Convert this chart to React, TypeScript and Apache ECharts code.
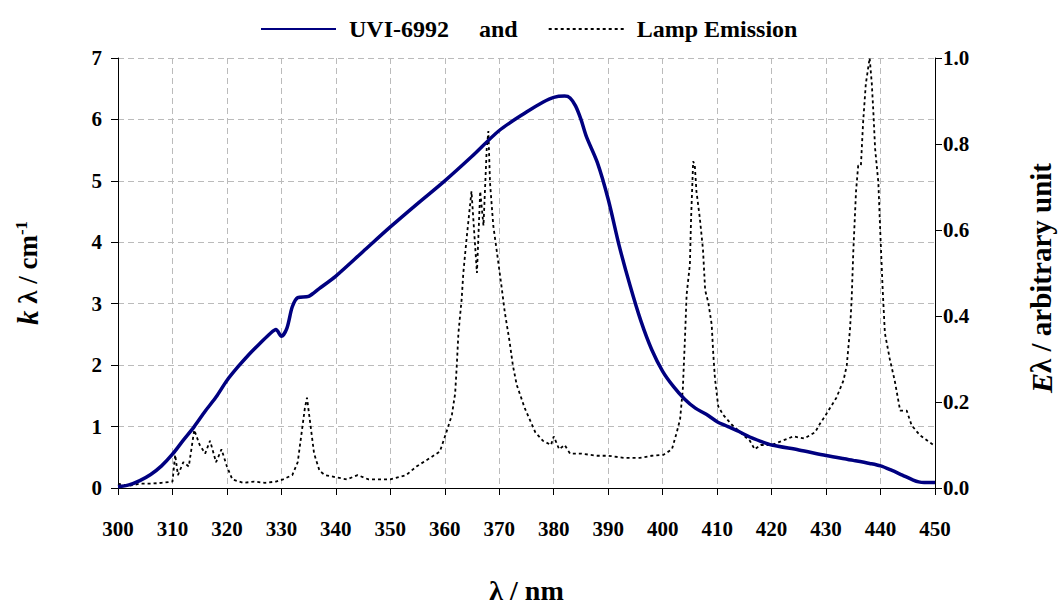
import React, { useEffect, useRef } from "react";
import * as echarts from "echarts";

const uviData: [number, number][] = [
  [300, 0.02], [302, 0.05], [304, 0.12], [306, 0.22], [308, 0.36], [310, 0.55], [312, 0.78],
  [314, 1.0], [316, 1.25], [318, 1.48], [320, 1.75], [322, 1.97], [324, 2.17], [326, 2.35],
  [328, 2.52], [329, 2.58], [330, 2.47], [331, 2.6], [332, 2.95], [333, 3.1], [335, 3.12],
  [337, 3.25], [340, 3.45], [345, 3.85], [350, 4.25], [355, 4.63], [360, 5.0], [365, 5.4],
  [370, 5.82], [375, 6.12], [378, 6.28], [380, 6.36], [382, 6.38], [383, 6.35], [384, 6.22],
  [385, 6.0], [386, 5.72], [388, 5.3], [390, 4.7], [392, 3.95], [394, 3.3], [396, 2.72],
  [398, 2.25], [400, 1.9], [402, 1.65], [404, 1.45], [406, 1.3], [408, 1.2], [410, 1.08],
  [412, 1.0], [414, 0.92], [416, 0.83], [418, 0.76], [420, 0.7], [425, 0.62], [430, 0.53],
  [435, 0.45], [438, 0.4], [440, 0.36], [442, 0.29], [444, 0.21], [446, 0.13], [447, 0.1],
  [448, 0.09], [450, 0.09],
];

const lampData: [number, number][] = [
  [300, 0.01], [302, 0.005], [304, 0.01], [306, 0.01], [308, 0.012], [310, 0.015], [310.5, 0.077],
  [311, 0.03], [312, 0.06], [313, 0.05], [314, 0.135], [315, 0.1], [316, 0.08], [316.9, 0.11],
  [318, 0.06], [319, 0.09], [320, 0.05], [321, 0.02], [323, 0.012], [325, 0.015], [327, 0.012],
  [329, 0.015], [330.3, 0.02], [332, 0.03], [333, 0.06], [334.3, 0.185], [334.7, 0.21],
  [335.5, 0.13], [336, 0.08], [337, 0.04], [338, 0.03], [340, 0.025], [342, 0.02], [344, 0.03],
  [346, 0.02], [348, 0.02], [350, 0.02], [352.9, 0.03], [354.8, 0.05], [357.3, 0.07],
  [359.1, 0.085], [360.3, 0.13], [361.3, 0.17], [361.9, 0.22], [362.2, 0.285], [362.5, 0.36],
  [363.1, 0.44], [363.4, 0.5], [364, 0.58], [364.9, 0.69], [365.9, 0.5], [366.5, 0.69],
  [367.1, 0.61], [367.7, 0.79], [368, 0.83], [368.3, 0.71], [368.9, 0.61], [369.5, 0.555],
  [370.4, 0.47], [371, 0.41], [371.9, 0.34], [372.5, 0.285], [373.2, 0.24], [374.7, 0.185],
  [376.6, 0.13], [378, 0.11], [379.5, 0.1], [380, 0.12], [381, 0.09], [382, 0.1], [383, 0.08],
  [385, 0.08], [388, 0.075], [390, 0.075], [393, 0.07], [395.8, 0.07], [398, 0.075],
  [400.1, 0.077], [401.7, 0.09], [402.6, 0.13], [403.2, 0.16], [403.7, 0.23], [404.1, 0.35],
  [404.4, 0.45], [405, 0.52], [405.2, 0.62], [405.6, 0.76], [405.9, 0.75], [406.2, 0.69],
  [406.8, 0.63], [407.4, 0.555], [407.8, 0.46], [408.4, 0.43], [409, 0.38], [409.3, 0.31],
  [409.6, 0.255], [410.2, 0.19], [411.1, 0.17], [412.7, 0.147], [414.2, 0.13], [416, 0.11],
  [416.9, 0.09], [418, 0.1], [420, 0.1], [422, 0.11], [424, 0.12], [426, 0.115], [428, 0.13],
  [428.9, 0.15], [429.8, 0.167], [431.9, 0.21], [433.2, 0.25], [433.8, 0.285], [434.4, 0.37],
  [434.7, 0.44], [435, 0.55], [435.5, 0.69], [435.9, 0.75], [436.4, 0.75], [436.8, 0.85],
  [437.3, 0.94], [438, 1.0], [438.4, 0.94], [438.7, 0.87], [439, 0.79], [439.6, 0.71],
  [440, 0.58], [440.4, 0.46], [440.8, 0.36], [441.7, 0.3], [442.6, 0.25], [443.6, 0.18],
  [444.8, 0.18], [445.7, 0.146], [447.2, 0.123], [449.7, 0.1], [450, 0.097],
];

const FONT = "'Liberation Serif', 'Times New Roman', serif";

export default function App() {
  const ref = useRef<HTMLDivElement>(null);
  useEffect(() => {
    if (!ref.current) return;
    const chart = echarts.init(ref.current, null, { renderer: "svg" });
    const labelStyle = { fontFamily: FONT, fontWeight: "bold" as const, fontSize: 21, color: "#000" };
    chart.setOption({
      animation: false,
      backgroundColor: "#fff",
      textStyle: { fontFamily: FONT },
      legend: {
        top: 12,
        left: 255,
        itemWidth: 75,
        itemHeight: 14,
        itemGap: 30,
        itemStyle: { opacity: 0 },
        textStyle: { ...labelStyle, fontSize: 24, padding: [0, 0, 0, 8] },
        data: ["UVI-6992     and", "Lamp Emission"],
      },
      grid: { left: 118, right: 124, top: 58, bottom: 119 },
      xAxis: {
        type: "value",
        min: 300,
        max: 450,
        interval: 10,
        name: "λ / nm",
        nameLocation: "middle",
        nameGap: 88,
        nameTextStyle: { ...labelStyle, fontSize: 28 },
        axisLine: { lineStyle: { color: "#000", width: 1 } },
        axisTick: { show: true, length: 7, lineStyle: { color: "#000" } },
        axisLabel: { ...labelStyle, margin: 30 },
        splitLine: { show: true, lineStyle: { color: "#bbb", type: [6, 4] } },
      },
      yAxis: [
        {
          type: "value",
          min: 0,
          max: 7,
          interval: 1,
          name: "{i|k}{n| λ / cm}{s|-1}",
          nameLocation: "middle",
          nameGap: 76,
          nameRotate: 90,
          nameTextStyle: {
            ...labelStyle,
            fontSize: 28,
            rich: {
              i: { fontFamily: FONT, fontWeight: "bold", fontStyle: "italic", fontSize: 29, color: "#000" },
              n: { fontFamily: FONT, fontWeight: "bold", fontSize: 27, color: "#000" },
              s: { fontFamily: FONT, fontWeight: "bold", fontSize: 17, color: "#000", verticalAlign: "top", padding: [0, 0, 12, 0] },
            },
          },
          axisLine: { show: true, lineStyle: { color: "#000", width: 1 } },
          axisTick: { show: true, length: 7, lineStyle: { color: "#000" } },
          axisLabel: { ...labelStyle, margin: 16 },
          splitLine: { show: true, lineStyle: { color: "#bbb", type: [6, 4] } },
        },
        {
          type: "value",
          min: 0,
          max: 1,
          interval: 0.2,
          position: "right",
          axisLine: { show: true, lineStyle: { color: "#000", width: 1 } },
          axisTick: { show: true, length: 7, lineStyle: { color: "#000" } },
          axisLabel: { ...labelStyle, margin: 8, formatter: (v: number) => v.toFixed(1) },
          splitLine: { show: false },
        },
      ],
      graphic: [
        {
          type: "text",
          x: 1026,
          y: 278,
          rotation: Math.PI / 2,
          style: {
            text: "{i|E}{n|λ / arbitrary unit}",
            rich: {
              i: { fontFamily: FONT, fontWeight: "bold", fontStyle: "italic", fontSize: 30, fill: "#000" },
              n: { fontFamily: FONT, fontWeight: "bold", fontSize: 29, fill: "#000" },
            },
            align: "center",
            verticalAlign: "top",
          },
        },
      ],
      series: [
        {
          name: "UVI-6992     and",
          type: "line",
          yAxisIndex: 0,
          data: uviData,
          smooth: 0.3,
          showSymbol: false,
          symbol: "none",
          lineStyle: { color: "#000080", width: 3.5 },
          itemStyle: { color: "#000080" },
          z: 3,
        },
        {
          name: "Lamp Emission",
          type: "line",
          yAxisIndex: 1,
          data: lampData,
          showSymbol: false,
          symbol: "none",
          lineStyle: { color: "#000", width: 1.8, type: [3, 3] },
          itemStyle: { color: "#000" },
          z: 2,
        },
      ],
    });
    return () => chart.dispose();
  }, []);
  return <div ref={ref} style={{ width: 1059, height: 609, position: "absolute", left: 0, top: 0 }} />;
}
